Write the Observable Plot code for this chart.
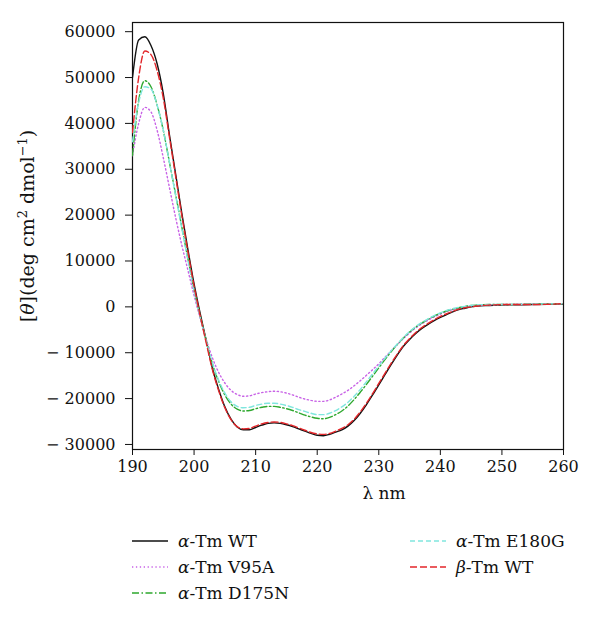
<!DOCTYPE html>
<html>
<head>
<meta charset="utf-8">
<script src="https://cdn.jsdelivr.net/npm/d3@7"></script>
<script src="https://cdn.jsdelivr.net/npm/@observablehq/plot@0.6"></script>
<style>
  body { margin: 0; background: #fff; }
  #chart { width: 600px; }
  svg { display: block; }
  svg, svg text { font-family: "DejaVu Serif", serif !important; }
</style>
</head>
<body>
<div id="chart"></div>
<script>
// Wavelength (nm)
const lambda = [190,191,192,193,194,195,196,197,198,199,
                200,201,202,203,204,205,206,207,208,209,
                210,211,212,213,214,215,216,217,218,219,
                220,221,222,223,224,225,226,227,228,229,
                230,231,232,233,234,235,236,237,238,239,
                240,241,242,243,244,245,246,248,250,255,260];

// Mean residue ellipticity series
const aWT = [50000,58200,58900,57000,53000,46500,37500,29000,20500,12500,
             5000,-1500,-7500,-13500,-18000,-21800,-24500,-26200,-26800,-26800,
             -26300,-25800,-25400,-25300,-25400,-25700,-26100,-26600,-27100,-27600,
             -28000,-28100,-27800,-27300,-26800,-26000,-24800,-23200,-21300,-19200,
             -17000,-14800,-12600,-10500,-8600,-7100,-5800,-4700,-3800,-3000,
             -2300,-1700,-1100,-600,-300,0,200,300,400,500,600];
const aV95A = [33000,40000,43500,42500,38500,32500,26000,19500,13500,8000,
               2500,-2500,-7200,-11200,-14300,-16600,-18200,-19100,-19500,-19400,
               -19000,-18700,-18500,-18400,-18500,-18800,-19200,-19700,-20100,-20400,
               -20600,-20600,-20300,-19700,-19000,-18200,-17200,-16100,-14900,-13700,
               -12400,-11000,-9600,-8200,-6900,-5700,-4600,-3700,-2900,-2200,
               -1600,-1000,-600,-300,0,200,300,400,500,600,700];
const aD175N = [33000,45000,49300,48000,44000,38500,31500,24500,17500,10500,
                3800,-2000,-7500,-12500,-16300,-19200,-21200,-22300,-22700,-22600,
                -22200,-21900,-21700,-21700,-21900,-22200,-22600,-23100,-23600,-24000,
                -24300,-24400,-24100,-23500,-22700,-21600,-20200,-18600,-16900,-15100,
                -13300,-11500,-9800,-8200,-6800,-5500,-4400,-3500,-2700,-2000,
                -1400,-900,-500,-200,100,300,400,500,500,600,700];
const aE180G = [36000,44500,48000,47500,44000,38500,31500,24300,17200,10200,
                3500,-2300,-7600,-12300,-16000,-18800,-20700,-21700,-22000,-21900,
                -21500,-21200,-21000,-21000,-21200,-21500,-21900,-22400,-22800,-23200,
                -23500,-23500,-23200,-22600,-21800,-20800,-19500,-18000,-16300,-14600,
                -12900,-11200,-9600,-8100,-6700,-5400,-4300,-3400,-2600,-1900,
                -1300,-800,-400,-100,100,300,400,500,500,600,700];
const bWT = [38000,50000,55800,55000,51500,45500,37000,28500,20000,12000,
             4500,-2000,-8000,-13800,-18300,-22000,-24600,-26100,-26600,-26500,
             -26000,-25500,-25200,-25100,-25200,-25500,-25900,-26400,-26900,-27400,
             -27700,-27800,-27600,-27100,-26500,-25700,-24500,-22900,-21000,-18900,
             -16700,-14500,-12300,-10300,-8400,-6900,-5600,-4500,-3600,-2800,
             -2100,-1500,-1000,-500,-200,0,200,400,500,500,700];

const xTicks = [190,200,210,220,230,240,250,260];
const yTicks = [-30000,-20000,-10000,0,10000,20000,30000,40000,50000,60000];

const seriesNames  = ["α-Tm WT","α-Tm V95A","α-Tm D175N","α-Tm E180G","β-Tm WT"];
const seriesValues = [aWT, aV95A, aD175N, aE180G, bWT];
const seriesColors = ["#111111","#c862e6","#2ea82e","#80e6de","#e3262a"];
const seriesDash   = [null,"1.3,2.6","7,2.5,1.5,2.5","5,3","7,3"];
const drawOrder = [0,1,2,3,4];

const font = '"DejaVu Serif", serif';

const rows = seriesNames.flatMap((name, s) =>
  lambda.map((x, i) => ({x, y: seriesValues[s][i], name})));

const marks = [
  Plot.frame({stroke: "#111", strokeWidth: 1.2}),
  ...drawOrder.map(s => Plot.line(rows.filter(d => d.name === seriesNames[s]), {
    x: "x", y: "y",
    stroke: seriesColors[s],
    strokeWidth: 1.4,
    strokeDasharray: seriesDash[s],
    curve: "monotone-x"
  })),
  Plot.axisX({ticks: xTicks, tickSize: 6, tickPadding: 5, label: null, tickFormat: d => String(d)}),
  Plot.axisY({ticks: yTicks, tickSize: 7, tickPadding: 10, label: null,
              tickFormat: d => d < 0 ? "\u2212 " + Math.abs(d) : String(d)})
];

const chart = Plot.plot({
  width: 600,
  height: 505,
  marginLeft: 132,
  marginRight: 37,
  marginTop: 22,
  marginBottom: 56,
  style: {fontFamily: font, fontSize: "16px", color: "#111", background: "#fff"},
  x: {domain: [190, 260]},
  y: {domain: [-31100, 62000]},
  clip: true,
  marks
});
document.getElementById("chart").appendChild(chart);

const svg = d3.select(chart);
const yl = svg.append("text")
  .attr("transform", "translate(34,226) rotate(-90)")
  .attr("text-anchor", "middle")
  .attr("font-family", font)
  .attr("font-size", 19)
  .attr("fill", "#111");
yl.append("tspan").text("[");
yl.append("tspan").attr("font-style", "italic").text("θ");
yl.append("tspan").text("](deg cm");
yl.append("tspan").attr("dy", -7).attr("font-size", 13).text("2");
yl.append("tspan").attr("dy", 7).text(" dmol");
yl.append("tspan").attr("dy", -7).attr("font-size", 13).text("−1");
yl.append("tspan").attr("dy", 7).text(")");

const xl = svg.append("text")
  .attr("x", 384).attr("y", 499)
  .attr("text-anchor", "middle")
  .attr("font-family", font)
  .attr("font-size", 17)
  .attr("fill", "#111");
xl.append("tspan").text("λ nm");

const legendPos = [[132, 36], [132, 62], [132, 88], [410, 36], [410, 62]];
const leg = d3.select("#chart").append("svg")
  .attr("width", 600).attr("height", 119);
[0,1,2,3,4].forEach((s, k) => {
  const [lx, ly] = legendPos[k];
  leg.append("line")
    .attr("x1", lx).attr("x2", lx + 36)
    .attr("y1", ly).attr("y2", ly)
    .attr("stroke", seriesColors[s])
    .attr("stroke-width", 1.5)
    .attr("stroke-dasharray", seriesDash[s]);
  const t = leg.append("text")
    .attr("x", lx + 46).attr("y", ly + 6)
    .attr("font-family", font)
    .attr("font-size", 17)
    .attr("fill", "#111");
  const name = seriesNames[s];
  t.append("tspan").attr("font-style", "italic").text(name[0]);
  t.append("tspan").text(name.slice(1));
});
</script>
</body>
</html>
